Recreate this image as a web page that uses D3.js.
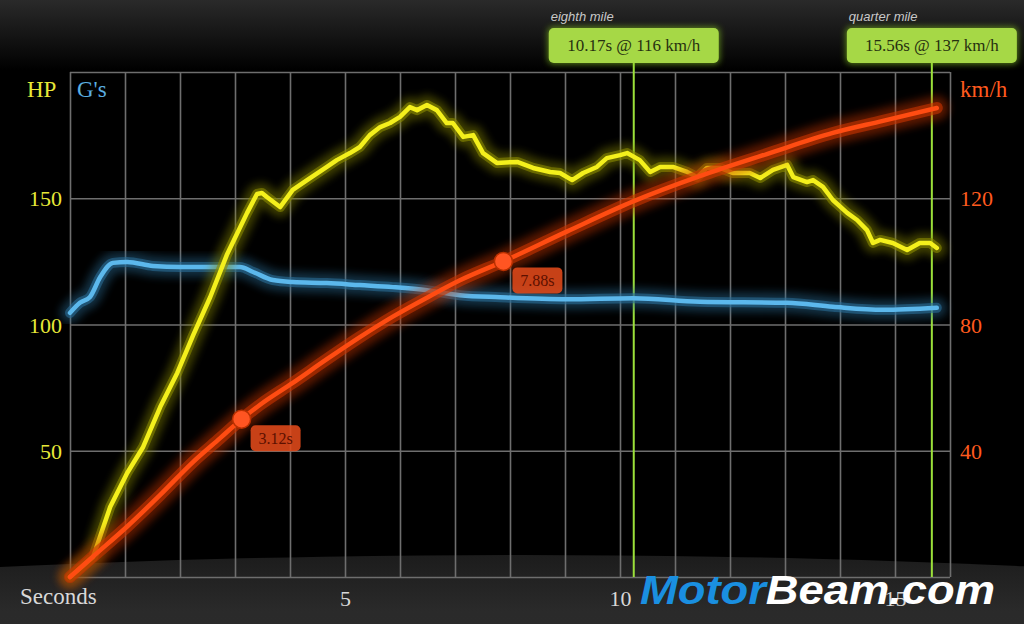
<!DOCTYPE html>
<html><head><meta charset="utf-8">
<script src="https://cdn.jsdelivr.net/npm/d3@7"></script>
<style>html,body{margin:0;padding:0;background:#000;}svg{display:block;}</style>
</head><body>
<script>
// ---- data ----
const hpTime = [0,0.42,0.73,1.04,1.33,1.64,1.95,2.24,2.55,2.85,3.22,3.40,3.49,3.58,3.82,4.05,4.31,4.67,4.85,5.09,5.27,5.45,5.64,5.82,6.00,6.18,6.31,6.49,6.67,6.85,6.96,7.15,7.33,7.51,7.76,8.13,8.42,8.73,8.91,9.13,9.33,9.58,9.76,10.0,10.13,10.36,10.55,10.73,10.96,11.22,11.40,11.58,11.82,12.05,12.36,12.55,12.78,13.04,13.15,13.40,13.51,13.69,13.87,14.13,14.31,14.49,14.60,14.73,14.96,15.22,15.45,15.64,15.76];
const hpValues = [0,7.9,27.7,41.2,51.5,67.3,80.8,95.8,110.9,127.5,144.2,151.7,152.1,150.5,146.5,153.3,157.2,162.4,165.1,167.9,170.3,175.0,178.2,179.8,182.2,186.1,184.9,186.9,184.9,179.8,179.8,174.3,175.0,167.9,164.0,164.4,162.0,160.4,160.0,157.2,160.0,162.4,165.9,167.1,167.9,165.1,160.4,162.4,162.4,160.4,158.4,162.0,162.0,160.0,160.0,158.0,161.2,163.2,158.4,156.4,157.2,154.5,149.3,144.2,141.4,137.4,132.3,133.5,132.3,129.5,132.3,132.3,130.3];
const gTime = [0,0.18,0.36,0.55,0.78,1.04,1.51,2.0,2.49,3.09,3.33,3.69,4.05,4.67,5.27,5.87,6.49,7.09,7.82,9.04,10.24,11.45,13.04,13.87,14.78,15.76];
const gValues = [0.523,0.543,0.554,0.594,0.622,0.624,0.616,0.614,0.614,0.614,0.604,0.588,0.584,0.582,0.578,0.574,0.568,0.558,0.554,0.550,0.552,0.545,0.543,0.535,0.529,0.533];
const speedTime = [0,0.42,1.04,1.64,2.24,2.73,3.12,3.45,4.05,4.67,5.27,5.87,6.49,7.09,7.88,9.04,10.24,11.45,12.67,13.87,14.78,15.76];
const speedValues = [0,6.5,16,26,36.5,44,50,54.5,61.5,69,76,82.5,88.5,94,100,109.5,119,127,134,140.7,144.5,148.6];
const splitTimes = [3.12,7.88];
const splitSpeeds = [50,100];
const splitLabels = ["3.12s","7.88s"];
const mileNames = ["eighth mile","quarter mile"];
const mileLabels = ["10.17s @ 116 km/h","15.56s @ 137 km/h"];
const mileLineTimes = [10.25,15.67];
const hpTicks = [50,100,150];
const speedTicks = [40,80,120];
const timeTicks = [5,10,15];

// ---- layout ----
const W = 1024, H = 624;
const svg = d3.select("body").append("svg").attr("width", W).attr("height", H);
const x = d3.scaleLinear().domain([0,16]).range([70,950]);
const yHP = d3.scaleLinear().domain([0,200]).range([577,72]);
const ySpd = d3.scaleLinear().domain([0,160]).range([577,72]);
const yG = d3.scaleLinear().domain([0,1]).range([577,72]);
const serif = "'Liberation Serif','DejaVu Serif',serif";

const defs = svg.append("defs");
const topGrad = defs.append("linearGradient").attr("id","topg").attr("x1",0).attr("y1",0).attr("x2",0).attr("y2",1);
topGrad.append("stop").attr("offset","0%").attr("stop-color","#2a2a2a");
topGrad.append("stop").attr("offset","100%").attr("stop-color","#000");
const floorGrad = defs.append("linearGradient").attr("id","floorg").attr("x1",0).attr("y1",0).attr("x2",0).attr("y2",1);
floorGrad.append("stop").attr("offset","0%").attr("stop-color","#1c1c1c");
floorGrad.append("stop").attr("offset","8%").attr("stop-color","#2a2a2a");
floorGrad.append("stop").attr("offset","100%").attr("stop-color","#333");
const blur = defs.append("filter").attr("id","blur").attr("x","-20%").attr("y","-20%").attr("width","140%").attr("height","140%");
blur.append("feGaussianBlur").attr("stdDeviation",4);
const blur2 = defs.append("filter").attr("id","blur2").attr("x","-50%").attr("y","-50%").attr("width","200%").attr("height","200%");
blur2.append("feGaussianBlur").attr("stdDeviation",3);

// background
svg.append("rect").attr("width",W).attr("height",H).attr("fill","#000");
svg.append("rect").attr("width",W).attr("height",70).attr("fill","url(#topg)");
svg.append("ellipse").attr("cx",520).attr("cy",905).attr("rx",2000).attr("ry",350).attr("fill","url(#floorg)");

// grid
const gridColor = "#6e6e6e";
const gx = svg.append("g").attr("transform","translate(0,577)")
  .call(d3.axisBottom(x).tickValues(d3.range(0,17)).tickSize(-505).tickFormat(""));
gx.select(".domain").remove();
gx.selectAll("line").attr("stroke",gridColor).attr("stroke-width",1.6);
const gy = svg.append("g").attr("transform","translate(70,0)")
  .call(d3.axisLeft(yHP).tickValues([0,50,100,150,200]).tickSize(-880).tickFormat(""));
gy.select(".domain").remove();
gy.selectAll("line").attr("stroke",gridColor).attr("stroke-width",1.6);

// mile marker lines
mileLineTimes.forEach(t => {
  svg.append("line").attr("x1",x(t)).attr("x2",x(t)).attr("y1",63).attr("y2",577)
    .attr("stroke","#7fd020").attr("stroke-width",8).attr("opacity",0.35).attr("filter","url(#blur2)");
  svg.append("line").attr("x1",x(t)).attr("x2",x(t)).attr("y1",63).attr("y2",577)
    .attr("stroke","#9be03a").attr("stroke-width",2);
});

// glowing lines
function glowLine(xs, ys, yScale, core, glow, curve, gw) {
  const pts = xs.map((t,i)=>[t, ys[i]]);
  const line = d3.line().x(d=>x(d[0])).y(d=>yScale(d[1])).curve(curve);
  const g = svg.append("g").attr("fill","none").attr("stroke-linecap","round").attr("stroke-linejoin","round");
  g.append("path").attr("d",line(pts)).attr("stroke",glow).attr("stroke-width",gw).attr("opacity",0.45).attr("filter","url(#blur)");
  g.append("path").attr("d",line(pts)).attr("stroke",glow).attr("stroke-width",gw/2).attr("opacity",0.6);
  g.append("path").attr("d",line(pts)).attr("stroke",core).attr("stroke-width",4.5);
}
glowLine(gTime, gValues, yG, "#5cb8ec", "#2a6d96", d3.curveMonotoneX, 20);
glowLine(hpTime, hpValues, yHP, "#f4f01c", "#8a8a00", d3.curveLinear, 20);
glowLine(speedTime, speedValues, ySpd, "#ff4c12", "#c83400", d3.curveMonotoneX, 24);

// split markers
splitTimes.forEach((t,i) => {
  const cx = x(t), cy = ySpd(splitSpeeds[i]);
  svg.append("circle").attr("cx",cx).attr("cy",cy).attr("r",9).attr("fill","#ff5522").attr("stroke","#b83000").attr("stroke-width",1.5);
  svg.append("rect").attr("x",cx+9).attr("y",cy+6).attr("width",50).attr("height",26).attr("rx",5)
    .attr("fill","#e34a1a").attr("opacity",0.88);
  svg.append("text").attr("x",cx+34).attr("y",cy+25).attr("text-anchor","middle")
    .attr("font-family",serif).attr("font-size",16).attr("fill","#5c1000").text(splitLabels[i]);
});

// mile boxes
mileLineTimes.forEach((t,i) => {
  const cx = x(t);
  svg.append("rect").attr("x",cx-86).attr("y",27).attr("width",172).attr("height",37).attr("rx",5)
    .attr("fill","#8ed020").attr("opacity",0.6).attr("filter","url(#blur2)");
  svg.append("rect").attr("x",cx-85).attr("y",28).attr("width",170).attr("height",35).attr("rx",5)
    .attr("fill","#a6d846");
  svg.append("text").attr("x",cx).attr("y",51).attr("text-anchor","middle")
    .attr("font-family",serif).attr("font-size",17).attr("fill","#263010").text(mileLabels[i]);
  svg.append("text").attr("x",cx-83).attr("y",21)
    .attr("font-family","'Liberation Sans','DejaVu Sans',sans-serif").attr("font-style","italic")
    .attr("font-size",13).attr("fill","#c8c8c8").text(mileNames[i]);
});

// axes labels
const leftAx = svg.append("g").attr("transform","translate(62,0)")
  .call(d3.axisLeft(yHP).tickValues(hpTicks).tickSize(0).tickPadding(0));
leftAx.select(".domain").remove();
leftAx.selectAll("text").attr("font-family",serif).attr("font-size",22).attr("fill","#e8e838").attr("dy","0.35em");
const rightAx = svg.append("g").attr("transform","translate(960,0)")
  .call(d3.axisRight(ySpd).tickValues(speedTicks).tickSize(0).tickPadding(0));
rightAx.select(".domain").remove();
rightAx.selectAll("text").attr("font-family",serif).attr("font-size",22).attr("fill","#ff5a1e").attr("dy","0.35em");
const botAx = svg.append("g").attr("transform","translate(0,590)")
  .call(d3.axisBottom(x).tickValues(timeTicks).tickSize(0).tickPadding(0));
botAx.select(".domain").remove();
botAx.selectAll("text").attr("font-family",serif).attr("font-size",22).attr("fill","#d8d8d8");

svg.append("text").attr("x",27).attr("y",97).attr("font-family",serif).attr("font-size",23).attr("fill","#e8e838").text("HP");
svg.append("text").attr("x",77).attr("y",97).attr("font-family",serif).attr("font-size",23).attr("fill","#5aaee0").text("G's");
svg.append("text").attr("x",960).attr("y",97).attr("font-family",serif).attr("font-size",23).attr("fill","#ff5a1e").text("km/h");
svg.append("text").attr("x",20).attr("y",604).attr("font-family",serif).attr("font-size",23).attr("fill","#d8d8d8").text("Seconds");

// watermark
const wm = svg.append("text").attr("x",640).attr("y",604)
  .attr("font-family","'Liberation Sans','DejaVu Sans',sans-serif").attr("font-weight","bold").attr("font-style","italic")
  .attr("font-size",40).attr("textLength",355).attr("lengthAdjust","spacingAndGlyphs");
wm.append("tspan").attr("fill","#1a8fe0").text("Motor");
wm.append("tspan").attr("fill","#ffffff").text("Beam.com");
</script>
</body></html>
